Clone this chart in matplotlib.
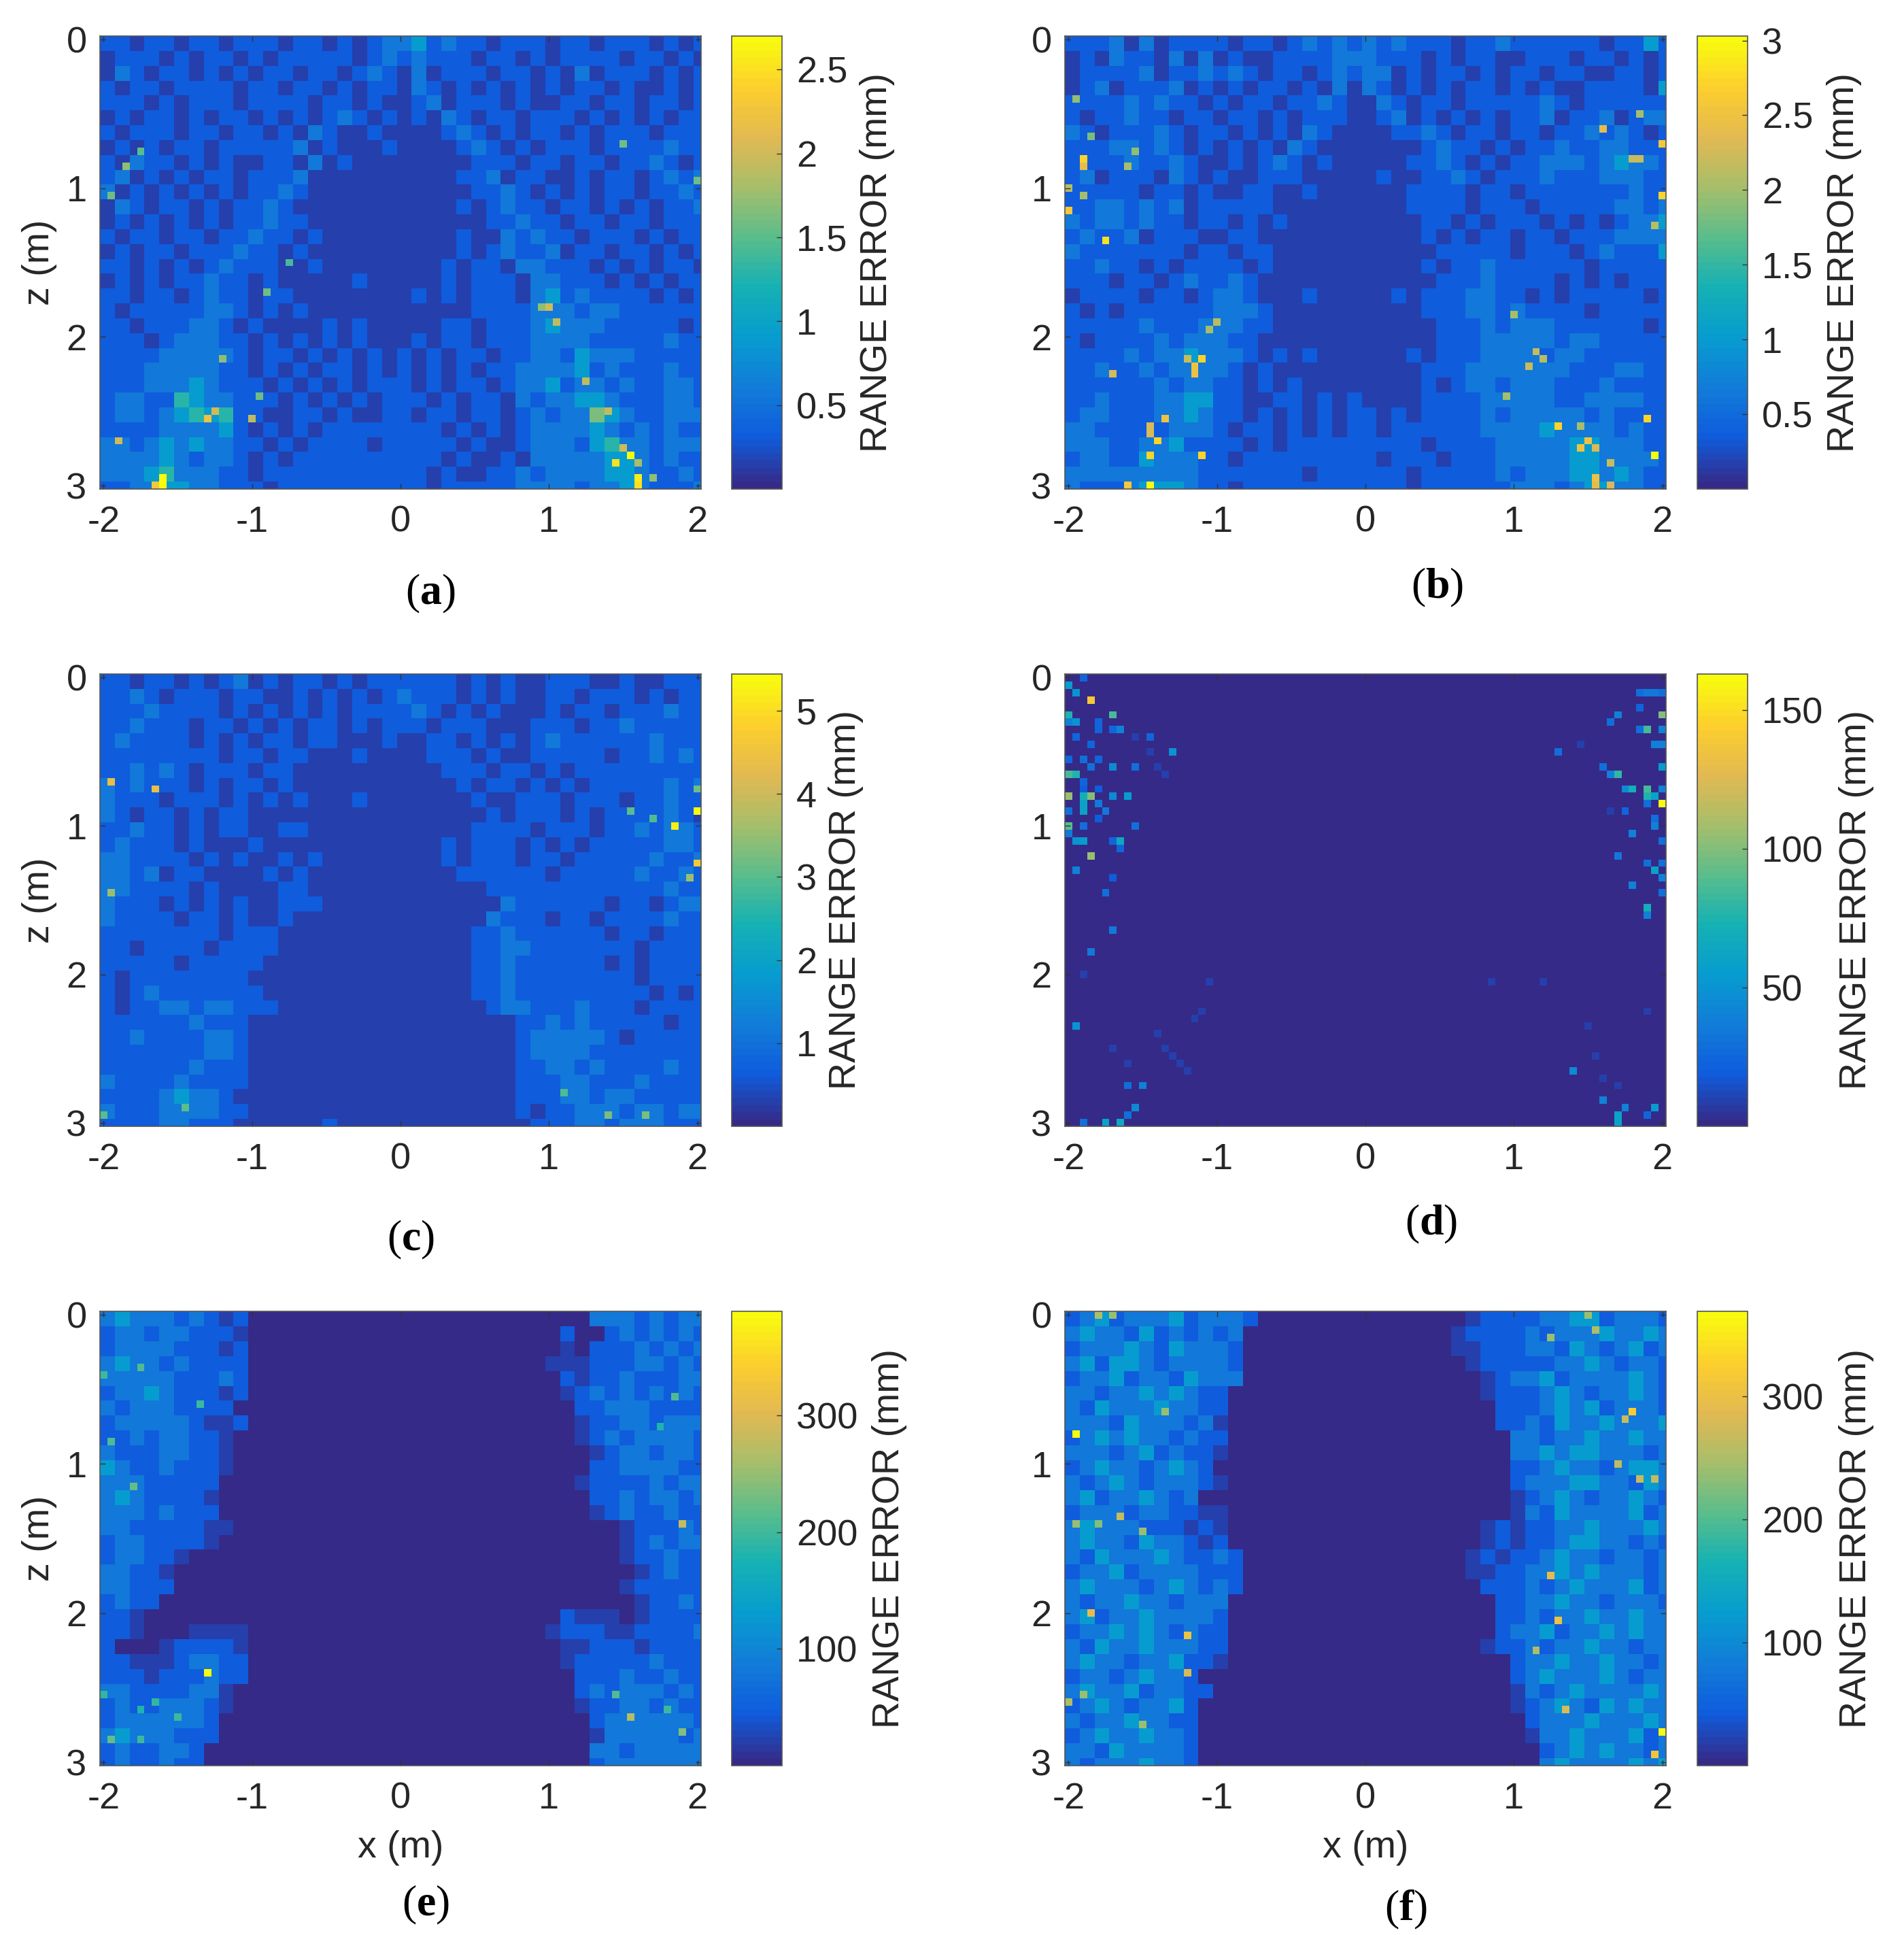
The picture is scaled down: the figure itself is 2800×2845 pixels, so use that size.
import numpy as np
import matplotlib
matplotlib.use("Agg")
import matplotlib.pyplot as plt
from matplotlib.colors import LinearSegmentedColormap

# each row: colour level of a 2x2 cell block, read by eye (see LEVELS)
A_ROWS = """
2212212212 2212212123 3423221222 12212221212
1222121221 2122222123 2322212212 12222122121
1321221212 1221221232 1312221221 21312221212
2122122221 2212212122 1321212121 21221211212
2221212221 2222122121 1231222121 12212212212
1212212122 1212123212 1213212212 22121212122
2122212212 2121321121 1112321212 21212221222
1212122122 2223121112 1111232121 22212222322
2132212121 1221312111 1111122212 21221223212
2312121221 2223111111 1111223122 11212212323
3121212121 2232111111 1111122321 21212212232
1321221212 2321111111 1111212322 12212121223
1212121212 2322111111 1111112232 21221221222
2122122122 3221211111 1111211323 22122212122
1212212223 2212111111 1111212322 31221221212
2212121232 2211211111 1112122133 22212121221
1212122322 1211111211 1112122213 32221212122
2212212322 1221111111 1212122213 42322221212
2122222332 1212111111 1111122223 33233222222
2212223321 2111121211 1112212223 43332222212
2221233322 1212121211 1212212223 33322222322
2222333332 1221212121 2121221223 32433322222
2223333322 1212122121 2121212233 33423222322
2223334322 2121212122 2121221233 42332322332
2332254332 2212121212 2212122132 33443222332
2332345452 2112212112 2122122123 23364322333
2222333342 1212122222 2221212123 33343232322
3323434332 2121222212 2222121123 33245332333
3333432332 1212222222 2221211213 33334432322
3334533322 1222222222 2212112232 33334432232
2233443322 2122222222 2212222233 33233432223
"""
B_ROWS = """
2223131222 2122123232 3232221223 22222212242
1213221313 1211222233 3222121221 12221221212
1222231223 2321221232 3312122121 22122112212
1231222312 1212212131 3212121221 21211222214
2222323221 2122122321 1321221222 22321222222
2122322122 1221212221 1231212121 22312231233
3212223212 2121213211 1122321221 22122323212
2223323212 1212132111 1111232212 12232233222
2222322321 1212321211 1112232121 22333234332
2312221321 2112221111 1211223212 22322233322
2222212212 1122112111 1112222122 12222222322
2233232312 2222111111 1112222122 21222223323
3233232212 2121211111 1111221212 22121212334
2322312221 1221111111 1111212122 12212223333
3222222212 2122111111 1111122222 12221232224
2232212122 2212111111 1111212232 22222122222
2221221232 2321111111 1111122232 22212121222
1222212212 3321112111 1121222332 21212222212
2121222222 3332111111 1111222332 32222122222
2222232223 3322111111 1111122232 33322222212
2122223233 3221111111 1111122233 33323322222
2222323343 3321212111 1112122233 33233222222
2232232333 3212111111 1111222333 33332223322
2222223233 2212121111 1111212332 33322232222
2232223344 2211221212 1111222233 33322333322
2332223343 2212121212 2121222232 33333232222
3322222333 2122121212 2122222233 33433332322
3332233422 2212122222 2222122223 33334433322
2332243332 2122222222 2122212223 33334433332
3333333332 2222221222 2221222223 23334434322
3222344432 2122222222 2221222222 33323443322
"""
C_ROWS = """
2212212123 1212212122 2222121211 22211211222
2232122212 2112121212 3222121211 22122212122
2223222212 1212121222 2321212111 21221222322
2232221221 2121221212 2212221112 22122322222
2322221212 1221221112 1122121212 32222223222
2222222212 2122111211 1122212112 22221223232
2232321222 1221111111 1112221221 21222222222
3232221212 2121111111 1111212212 12122222323
3222122212 1212111211 1111121122 21222122322
3212212122 1111111111 1111112122 21212222321
2232212122 1122111111 1111122221 22212232332
2322212111 2111111111 1112122212 12122222332
3322221212 1121211111 1112122212 21222223223
3323122111 1212111111 1111222222 12222232232
3322221211 1122111111 1111112222 22222222322
3222121212 1122211111 1111111322 22221221233
3222212212 1121111111 1111113222 12212222322
2222222212 2211111111 1111122322 22221221222
2212222122 2211111111 1111122332 22222212222
2222212222 2111111111 1111122322 22221212222
2122222222 1111111111 1111122322 22222212222
2123222222 2111111111 1111122322 22222221212
2122332332 2211111111 1111112332 22322212222
2222223222 1111111111 1111111122 32322222122
2232222332 1111111111 1111111123 33332122222
2222222332 1111111111 1111111123 33322222222
2222223222 1111111111 1111111122 33232222322
3222232222 1111111111 1111111122 23322232222
2222343321 1111111111 1111111122 23323322222
3222333322 1111111111 1111111121 22333233233
2222332221 1111121111 1111111112 22332333222
"""
E_ROWS = """
3433323212 0000000000 0000000000 00033323233
2332332221 0000000000 0000000000 02002323232
2333322212 0000000000 0000000000 01022232323
3433232222 0000000000 0000000000 11122233232
3333322232 0000000000 0000000000 02122322233
2334322212 0000000000 0000000000 01232323232
3233322220 0000000000 0000000000 00223332222
2333332112 0000000000 0000000000 00122332333
2232332210 0000000000 0000000000 00123233332
3222332210 0000000000 0000000000 00012332332
4322322210 0000000000 0000000000 00022333322
3332222200 0000000000 0000000000 00122223233
3432222100 0000000000 0000000000 00022323323
3332322200 0000000000 0000000000 00012322322
3322222110 0000000000 0000000000 00000122232
2332222100 0000000000 0000000000 00000123233
2332210000 0000000000 0000000000 00000122322
3322100000 0000000000 0000000000 00000012322
3322200000 0000000000 0000000000 00000122222
2322000000 0000000000 0000000000 00000012232
2210000000 0000000000 0000000000 02111012222
2210001111 0000000000 0000000000 12221122223
2000122221 0000000000 0000000000 01122212222
2211123322 0000000000 0000000000 01222223222
2221222322 0000000000 0000000000 00222322322
3322223310 0000000000 0000000000 00232333232
2322333210 0000000000 0000000000 00122332322
2333333200 0000000000 0000000000 00023333332
3433322200 0000000000 0000000000 00013333323
2322332000 0000000000 0000000000 00033233333
2322322000 0000000000 0000000000 00023333333
"""
F_ROWS = """
2342333423 3320000000 0000000122 22334423332
3433242323 2300000000 0000001222 23233343343
2333432433 3200000000 0000001122 23324323423
3424432333 3200000000 0000000122 22233432332
2334233243 3300000000 0000000012 33423333432
3323343432 2000000000 0000000012 22343233432
3243334332 2000000000 0000000002 22343423332
3332433323 1000000000 0000000002 23243343334
2343433232 2000000000 0000000000 33233433433
3332342322 1000000000 0000000000 33434433323
2343323432 0000000000 0000000000 22343323443
3234323332 1000000000 0000000000 23334433243
3423343230 0000000000 0000000000 12343233432
2333233221 1000000000 0000000000 13243333423
3433322212 1000000000 0000000012 12233433343
3433243321 2000000000 0000000012 12234433232
3243334322 3200000000 0000000121 22343323323
2334233332 2200000000 0000000112 23343433323
3433323432 3200000000 0000000022 23234333423
3233433233 3000000000 0000000002 23343323332
3423343333 2000000000 0000000002 23233433433
2334343232 2000000000 0000000002 33423343433
3243343332 2000000000 0000000012 23233433233
3433233422 1000000000 0000000000 23343343323
2332343320 0000000000 0000000000 23433343233
3433423322 0000000000 0000000000 13234333343
2343233420 0000000000 0000000000 12343243433
3233433220 0000000000 0000000000 02333433343
2343343320 0000000000 0000000000 01334333423
3324333320 0000000000 0000000000 00234343323
3233343320 0000000000 0000000000 00343333434
"""

# fraction of the colour range for each level digit
LEVELS = [0.0, 0.06, 0.12, 0.21, 0.33, 0.47, 0.6]

# single bright cells (column, row, mm) on the 81 x 61 grid
A_HOT = [(8, 60, 2.7), (8, 59, 2.7), (7, 60, 2.3), (14, 51, 2.2), (15, 50, 2.0), (71, 56, 2.7),
         (69, 57, 2.5), (72, 59, 2.6), (72, 60, 2.5), (70, 55, 2.0), (68, 50, 1.9), (20, 51, 1.9),
         (60, 36, 2.0), (59, 36, 1.7), (61, 38, 1.9), (65, 46, 1.9), (3, 17, 1.7), (1, 21, 1.6),
         (80, 19, 1.6), (2, 54, 2.0), (16, 43, 1.7), (21, 48, 1.6), (22, 34, 1.6), (25, 30, 1.4),
         (5, 15, 1.5), (70, 14, 1.6), (72, 57, 1.8), (74, 59, 1.7)]
B_HOT = [(11, 60, 3.03), (8, 60, 2.6), (13, 51, 2.5), (11, 52, 2.3), (11, 53, 2.3), (12, 54, 2.7),
         (11, 56, 2.7), (18, 56, 2.7), (17, 44, 2.5), (17, 45, 2.5), (16, 43, 2.2), (18, 43, 2.7),
         (6, 45, 2.3), (19, 39, 2.0), (20, 38, 2.1), (2, 16, 2.7), (2, 17, 2.4), (0, 23, 2.6),
         (0, 20, 2.1), (2, 21, 2.0), (5, 27, 2.8), (8, 17, 2.0), (9, 15, 1.9), (3, 13, 1.8),
         (1, 8, 1.9), (66, 52, 2.7), (78, 51, 2.7), (79, 56, 3.03), (80, 14, 2.6), (80, 21, 2.7),
         (79, 25, 2.1), (72, 12, 2.4), (77, 10, 2.0), (76, 16, 2.2), (77, 16, 2.2), (60, 37, 2.0),
         (63, 42, 2.2), (64, 43, 2.1), (62, 44, 2.2), (59, 48, 2.0), (70, 54, 2.5), (69, 55, 2.5),
         (71, 55, 2.3), (73, 57, 2.2), (71, 59, 2.5), (71, 60, 2.4), (73, 60, 2.3), (69, 52, 2.0)]
C_HOT = [(1, 14, 4.4), (7, 15, 4.4), (80, 18, 5.44), (77, 20, 5.2), (80, 25, 4.6), (1, 29, 3.5),
         (80, 15, 3.2), (79, 27, 3.5), (71, 18, 3.0), (74, 19, 2.9), (68, 59, 3.3), (73, 59, 3.3),
         (62, 56, 2.9), (0, 59, 3.0), (11, 58, 3.0)]
D_HOT = [(0, 1, 55), (2, 0, 25), (1, 2, 50), (3, 3, 140), (0, 5, 75), (6, 5, 85), (1, 6, 50), (0, 6, 40),
         (4, 6, 25), (4, 7, 25), (6, 7, 25), (7, 7, 40), (1, 8, 25), (3, 9, 25), (11, 8, 25), (14, 10, 50),
         (0, 11, 25), (2, 11, 30), (4, 11, 25), (3, 12, 30), (6, 12, 45), (9, 12, 30), (0, 13, 85), (1, 13, 75),
         (2, 14, 25), (2, 15, 20), (4, 15, 20), (0, 16, 105), (2, 16, 70), (3, 16, 100), (6, 16, 45), (8, 16, 55),
         (2, 17, 60), (4, 17, 35), (0, 18, 30), (2, 18, 60), (5, 18, 35), (4, 19, 20), (0, 20, 90), (2, 20, 30),
         (9, 20, 30), (1, 22, 50), (2, 22, 55), (6, 22, 25), (7, 22, 65), (0, 21, 35), (7, 23, 25), (3, 24, 105),
         (1, 26, 40), (6, 27, 20), (5, 29, 30), (6, 34, 35), (3, 37, 35), (1, 47, 50), (8, 55, 30), (10, 55, 40),
         (9, 58, 45), (8, 59, 30), (5, 60, 60), (7, 60, 65), (2, 60, 30),
         (80, 5, 100), (78, 7, 85), (80, 7, 40), (77, 7, 30), (74, 5, 40), (73, 6, 30), (66, 10, 30), (80, 9, 40),
         (79, 9, 40), (80, 12, 55), (72, 12, 30), (74, 13, 80), (73, 13, 40), (76, 15, 70), (75, 15, 45), (78, 15, 85),
         (80, 15, 40), (78, 16, 75), (79, 16, 60), (80, 17, 163), (78, 17, 30), (75, 18, 25), (79, 19, 30), (79, 20, 40),
         (76, 21, 40), (80, 22, 30), (74, 24, 35), (78, 25, 30), (80, 25, 30), (79, 26, 60), (80, 27, 40), (76, 28, 40),
         (80, 29, 30), (78, 31, 70), (78, 32, 40), (68, 53, 45), (72, 57, 40), (75, 58, 40), (79, 58, 55), (74, 59, 60),
         (74, 60, 60), (78, 59, 25), (77, 2, 30), (78, 2, 35), (79, 2, 35), (80, 2, 30), (77, 4, 25),
         (11, 10, 10), (12, 12, 10), (13, 13, 10), (9, 8, 10), (12, 48, 10), (13, 50, 10), (14, 51, 10), (15, 52, 10),
         (16, 53, 10), (2, 40, 10), (6, 50, 10), (8, 52, 10), (17, 46, 10), (18, 45, 10), (64, 41, 10), (70, 47, 10),
         (71, 51, 10), (72, 54, 10), (74, 55, 10), (73, 18, 10), (69, 9, 10), (78, 45, 10), (57, 41, 10), (19, 41, 10)]
E_HOT = [(14, 48, 389), (78, 28, 280), (71, 54, 270), (78, 56, 240), (4, 23, 220), (5, 7, 210), (1, 17, 210),
         (13, 12, 200), (77, 11, 210), (69, 51, 210), (76, 53, 200), (5, 57, 200), (1, 57, 220), (0, 51, 190),
         (75, 15, 180), (0, 8, 200), (10, 54, 200), (7, 52, 190), (5, 53, 180)]
F_HOT = [(1, 16, 369), (7, 27, 270), (3, 40, 290), (16, 43, 300), (16, 48, 280), (80, 56, 369), (79, 59, 310),
         (76, 13, 320), (75, 14, 270), (65, 35, 290), (66, 41, 300), (63, 45, 250), (74, 20, 260), (77, 22, 270),
         (79, 22, 260), (67, 53, 280), (10, 55, 240), (4, 0, 250), (6, 0, 240), (13, 13, 240), (10, 29, 240),
         (1, 28, 240), (4, 28, 230), (0, 52, 250), (2, 51, 240), (70, 0, 240), (71, 2, 250), (65, 3, 240)]

V_MAX = [2.70, 3.03, 5.44, 163, 389, 369]
TICKS = [[0.5, 1, 1.5, 2, 2.5], [0.5, 1, 1.5, 2, 2.5, 3], [1, 2, 3, 4, 5],
         [50, 100, 150], [100, 200, 300], [100, 200, 300]]
TICK_LABELS = [["0.5", "1", "1.5", "2", "2.5"], ["0.5", "1", "1.5", "2", "2.5", "3"],
               ["1", "2", "3", "4", "5"], ["50", "100", "150"],
               ["100", "200", "300"], ["100", "200", "300"]]
LETTERS = ["a", "b", "c", "d", "e", "f"]
X_TICKS = [-2, -1, 0, 1, 2]
Z_TICKS = [0, 1, 2, 3]
X_CENTRES = np.linspace(-2, 2, 81)
Z_CENTRES = np.linspace(0, 3, 61)

# layout in reference pixels
W, H = 2800, 2845
AX_X = [(147, 1031), (1566, 2450)] * 3
AX_Y = [(53, 719)] * 2 + [(991, 1656)] * 2 + [(1928, 2596)] * 2
CB_X = [(1076, 1150), (2496, 2570)] * 3
LABEL_X = [1290, 2712, 1244, 2730, 1308, 2730]
CAPTION_XY = [(633, 873), (2114, 864), (604, 1823), (2105, 1800), (626, 2801), (2067, 2808)]

PARULA = LinearSegmentedColormap.from_list(
    "parula_old",
    ["#352a87", "#0f5cdd", "#127dd8", "#079ccf", "#15b1b4", "#59bd8c", "#a5be6b", "#e1b952", "#fcce2e", "#f9fb0e"],
    N=64,
)
TEXT = "#262626"
FS_TICK = 39
FS_LABEL = 40

plt.rcParams["font.family"] = ["Liberation Sans", "DejaVu Sans"]
plt.rcParams["axes.unicode_minus"] = False
plt.rcParams["mathtext.fontset"] = "custom"
plt.rcParams["mathtext.rm"] = "Liberation Serif"
plt.rcParams["mathtext.bf"] = "Liberation Serif:bold"


def decode(rows, vmax):
    """Level rows to an 81 x 61 array in mm, each digit covering 2 x 2 cells."""
    grid = [[LEVELS[int(c)] for c in r.replace(" ", "")] for r in rows.strip().splitlines()]
    grid = np.array(grid) * vmax
    return np.repeat(np.repeat(grid, 2, axis=0), 2, axis=1)[:61, :81]


def px_axes(fig, x0, x1, y0, y1):
    return fig.add_axes([x0 / W, 1 - y1 / H, (x1 - x0) / W, (y1 - y0) / H])


fig = plt.figure(figsize=(W / 100, H / 100), dpi=100)

bases = [A_ROWS, B_ROWS, C_ROWS, None, E_ROWS, F_ROWS]
hots = [A_HOT, B_HOT, C_HOT, D_HOT, E_HOT, F_HOT]

for i in range(6):
    vmax = V_MAX[i]
    data = np.zeros((61, 81)) if bases[i] is None else decode(bases[i], vmax)
    for col, row, val in hots[i]:
        data[row, col] = val

    ax = px_axes(fig, *AX_X[i], *AX_Y[i])
    mesh = ax.pcolormesh(X_CENTRES, Z_CENTRES, data, cmap=PARULA, vmin=0, vmax=vmax, shading="nearest")
    ax.set_xlim(-2.025, 2.025)
    ax.set_ylim(3.025, -0.025)
    ax.set_xticks(X_TICKS)
    ax.set_yticks(Z_TICKS)
    ax.tick_params(direction="in", length=6, width=1, top=True, right=True, labelsize=FS_TICK,
                   colors=TEXT, color="#333333")
    ax.tick_params(axis="x", pad=17)
    ax.tick_params(axis="y", pad=14)
    for s in ax.spines.values():
        s.set_linewidth(1.2)
        s.set_color("#555555")

    cax = px_axes(fig, *CB_X[i], *AX_Y[i])
    cb = fig.colorbar(mesh, cax=cax)
    cb.set_ticks(TICKS[i], labels=TICK_LABELS[i])
    cax.tick_params(direction="in", length=6, width=1, labelsize=FS_TICK, colors=TEXT, color="#333333", pad=15)
    cb.outline.set_linewidth(1.2)
    cb.outline.set_edgecolor("#555555")

    ymid = sum(AX_Y[i]) / 2
    fig.text(LABEL_X[i] / W, 1 - ymid / H, "RANGE ERROR (mm)", rotation=90, ha="center", va="center",
             fontsize=FS_LABEL, color=TEXT)
    if i % 2 == 0:
        fig.text(58 / W, 1 - ymid / H, "z (m)", rotation=90, ha="center", va="center", fontsize=FS_LABEL, color=TEXT)
    if i >= 4:
        fig.text(sum(AX_X[i]) / 2 / W, 1 - 2717 / H, "x (m)", ha="center", va="center", fontsize=FS_LABEL, color=TEXT)

    cx, cy = CAPTION_XY[i]
    fig.text(cx / W, 1 - cy / H, r"$\mathrm{(}\mathbf{%s}\mathrm{)}$" % LETTERS[i], ha="center", va="center",
             fontsize=46, color="black")

fig.savefig("out.png", dpi=100)
